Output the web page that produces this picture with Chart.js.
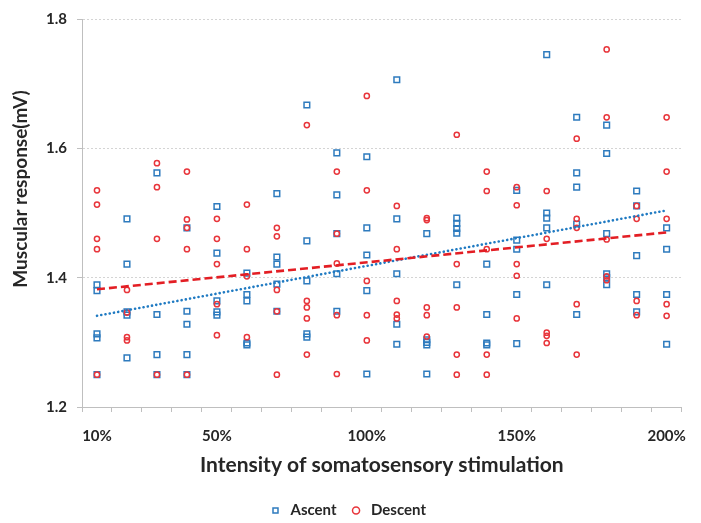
<!DOCTYPE html>
<html>
<head>
<meta charset="utf-8">
<script src="https://cdn.jsdelivr.net/npm/chart.js@4.4.1/dist/chart.umd.min.js"></script>
<style>
  html, body { margin: 0; padding: 0; background: #ffffff; }
  #wrap { width: 701px; height: 523px; }
</style>
</head>
<body>
<div id="wrap"><canvas id="c" width="701" height="523"></canvas></div>
<script>
// Categories (x axis)
const categories = ['10%','20%','30%','40%','50%','60%','70%','80%','90%','100%',
                    '110%','120%','130%','140%','150%','160%','170%','180%','190%','200%'];
// Tick labels that are shown
const shownTickLabels = ['10%','50%','100%','150%','200%'];

// Ascent values, one small list per category
const ascent = [
  [1.389, 1.380, 1.313, 1.307, 1.250],
  [1.491, 1.421, 1.347, 1.342, 1.276],
  [1.562, 1.343, 1.281, 1.250],
  [1.477, 1.348, 1.328, 1.281, 1.250],
  [1.510, 1.438, 1.364, 1.347, 1.342],
  [1.407, 1.374, 1.364, 1.299, 1.296],
  [1.530, 1.432, 1.421, 1.390, 1.348],
  [1.667, 1.457, 1.395, 1.313, 1.308],
  [1.593, 1.528, 1.468, 1.406, 1.348],
  [1.587, 1.477, 1.435, 1.380, 1.251],
  [1.706, 1.491, 1.406, 1.328, 1.297],
  [1.468, 1.304, 1.300, 1.296, 1.251],
  [1.492, 1.484, 1.476, 1.469, 1.389],
  [1.421, 1.343, 1.299, 1.296],
  [1.535, 1.458, 1.444, 1.374, 1.298],
  [1.745, 1.500, 1.492, 1.477, 1.389],
  [1.648, 1.562, 1.540, 1.483, 1.343],
  [1.636, 1.592, 1.468, 1.406, 1.400, 1.389],
  [1.534, 1.511, 1.434, 1.374, 1.347],
  [1.477, 1.444, 1.374, 1.297]
];

// Descent values, one small list per category
const descent = [
  [1.535, 1.513, 1.460, 1.444, 1.250],
  [1.381, 1.346, 1.308, 1.303],
  [1.577, 1.540, 1.460, 1.250],
  [1.564, 1.490, 1.477, 1.444, 1.250],
  [1.491, 1.460, 1.421, 1.359, 1.311],
  [1.513, 1.444, 1.402, 1.308],
  [1.477, 1.464, 1.381, 1.348, 1.250],
  [1.636, 1.364, 1.354, 1.337, 1.281],
  [1.564, 1.468, 1.422, 1.342, 1.251],
  [1.681, 1.535, 1.395, 1.342, 1.303],
  [1.511, 1.444, 1.364, 1.343, 1.337],
  [1.492, 1.489, 1.354, 1.342, 1.309],
  [1.621, 1.421, 1.354, 1.281, 1.250],
  [1.564, 1.534, 1.444, 1.281, 1.250],
  [1.540, 1.512, 1.421, 1.403, 1.337],
  [1.534, 1.460, 1.315, 1.310, 1.299],
  [1.615, 1.491, 1.477, 1.359, 1.281],
  [1.753, 1.648, 1.459, 1.402, 1.396],
  [1.511, 1.491, 1.364, 1.342],
  [1.648, 1.564, 1.491, 1.359, 1.341]
];

// Linear trend lines (values read at first and last category)
const trendCategories = ['10%', '200%'];
const ascentTrend = [1.341, 1.504];
const descentTrend = [1.382, 1.470];

const yTicks = [1.2, 1.4, 1.6, 1.8];
const yTitle = 'Muscular response(mV)';

function toPoints(groups) {
  const pts = [];
  groups.forEach((vals, i) => vals.forEach(v => pts.push({ x: categories[i], y: v })));
  return pts;
}
function toTrend(vals) {
  return vals.map((v, i) => ({ x: trendCategories[i], y: v }));
}

const BLUE = '#2E7BBE';
const RED = '#E8353B';
const FONT = 'Lato';
const TEXT = '#262626';

// y-axis title drawn as canvas text, placed slightly above the plot centre
const yTitlePlugin = {
  id: 'yTitlePlugin',
  afterDraw(chart) {
    const ctx = chart.ctx;
    const area = chart.chartArea;
    ctx.save();
    ctx.translate(21, (area.top + area.bottom) / 2 - 24);
    ctx.rotate(-Math.PI / 2);
    ctx.font = 'bold 19px ' + FONT;
    ctx.fillStyle = TEXT;
    ctx.textAlign = 'center';
    ctx.textBaseline = 'middle';
    ctx.fillText(yTitle, 0, 0);
    ctx.restore();
  }
};

new Chart(document.getElementById('c'), {
  type: 'line',
  plugins: [yTitlePlugin],
  data: {
    labels: categories,
    datasets: [
      {
        label: 'Ascent',
        data: toPoints(ascent),
        showLine: false,
        pointStyle: 'rect',
        pointRadius: 4,
        pointBorderWidth: 1.5,
        pointBorderColor: BLUE,
        pointBackgroundColor: 'rgba(0,0,0,0)',
        borderColor: BLUE,
        backgroundColor: 'rgba(0,0,0,0)',
        order: 3
      },
      {
        label: 'Descent',
        data: toPoints(descent),
        showLine: false,
        pointStyle: 'circle',
        pointRadius: 2.6,
        pointBorderWidth: 1.5,
        pointBorderColor: RED,
        pointBackgroundColor: 'rgba(0,0,0,0)',
        borderColor: RED,
        backgroundColor: 'rgba(0,0,0,0)',
        order: 2
      },
      {
        label: 'AscentTrend',
        data: toTrend(ascentTrend),
        borderColor: '#1F7AC2',
        borderWidth: 2.6,
        borderDash: [0.1, 4.2],
        borderCapStyle: 'round',
        pointRadius: 0,
        fill: false,
        order: 1
      },
      {
        label: 'DescentTrend',
        data: toTrend(descentTrend),
        borderColor: '#E31E24',
        borderWidth: 2.6,
        borderDash: [8, 4],
        pointRadius: 0,
        fill: false,
        order: 0
      }
    ]
  },
  options: {
    responsive: false,
    devicePixelRatio: 1,
    animation: false,
    layout: { padding: { top: 16, right: 7, left: 0, bottom: -5 } },
    plugins: {
      tooltip: { enabled: false },
      legend: {
        position: 'bottom',
        labels: {
          filter: (item) => item.text === 'Ascent' || item.text === 'Descent',
          sort: (a, b) => a.datasetIndex - b.datasetIndex,
          usePointStyle: true,
          boxHeight: 5,
          padding: 12,
          color: TEXT,
          font: { family: FONT, size: 15, weight: 'bold' }
        }
      }
    },
    scales: {
      x: {
        type: 'category',
        offset: true,
        grid: {
          display: true,
          offset: true,
          drawOnChartArea: false,
          drawTicks: true,
          tickLength: 5,
          color: '#BFBFBF'
        },
        border: { display: true, color: '#BFBFBF', width: 1 },
        ticks: {
          autoSkip: false,
          maxRotation: 0,
          minRotation: 0,
          padding: 15,
          color: TEXT,
          font: { family: FONT, size: 15, weight: 'bold' },
          callback: function (value, index) {
            const lab = this.getLabelForValue(value);
            return shownTickLabels.includes(lab) ? lab : '';
          }
        },
        title: {
          display: true,
          text: 'Intensity of somatosensory stimulation',
          color: TEXT,
          font: { family: FONT, size: 21, weight: 'bold' },
          padding: { top: 4, bottom: 13 }
        },
        afterFit: (scale) => { scale.height = 84; }
      },
      y: {
        type: 'linear',
        min: 1.2,
        max: 1.8,
        afterBuildTicks: (scale) => { scale.ticks = yTicks.map(v => ({ value: v })); },
        grid: {
          display: true,
          color: '#D4D4D4',
          lineWidth: 1,
          drawTicks: true,
          tickLength: 5,
          tickColor: '#BFBFBF'
        },
        border: { display: true, color: '#BFBFBF', width: 1, dash: [2, 2] },
        ticks: {
          padding: 10,
          color: TEXT,
          font: { family: FONT, size: 15, weight: 'bold' },
          callback: (v) => Number(v).toFixed(1)
        },
        title: { display: false },
        afterFit: (scale) => { scale.width = 82; }
      }
    }
  }
});
</script>
</body>
</html>
